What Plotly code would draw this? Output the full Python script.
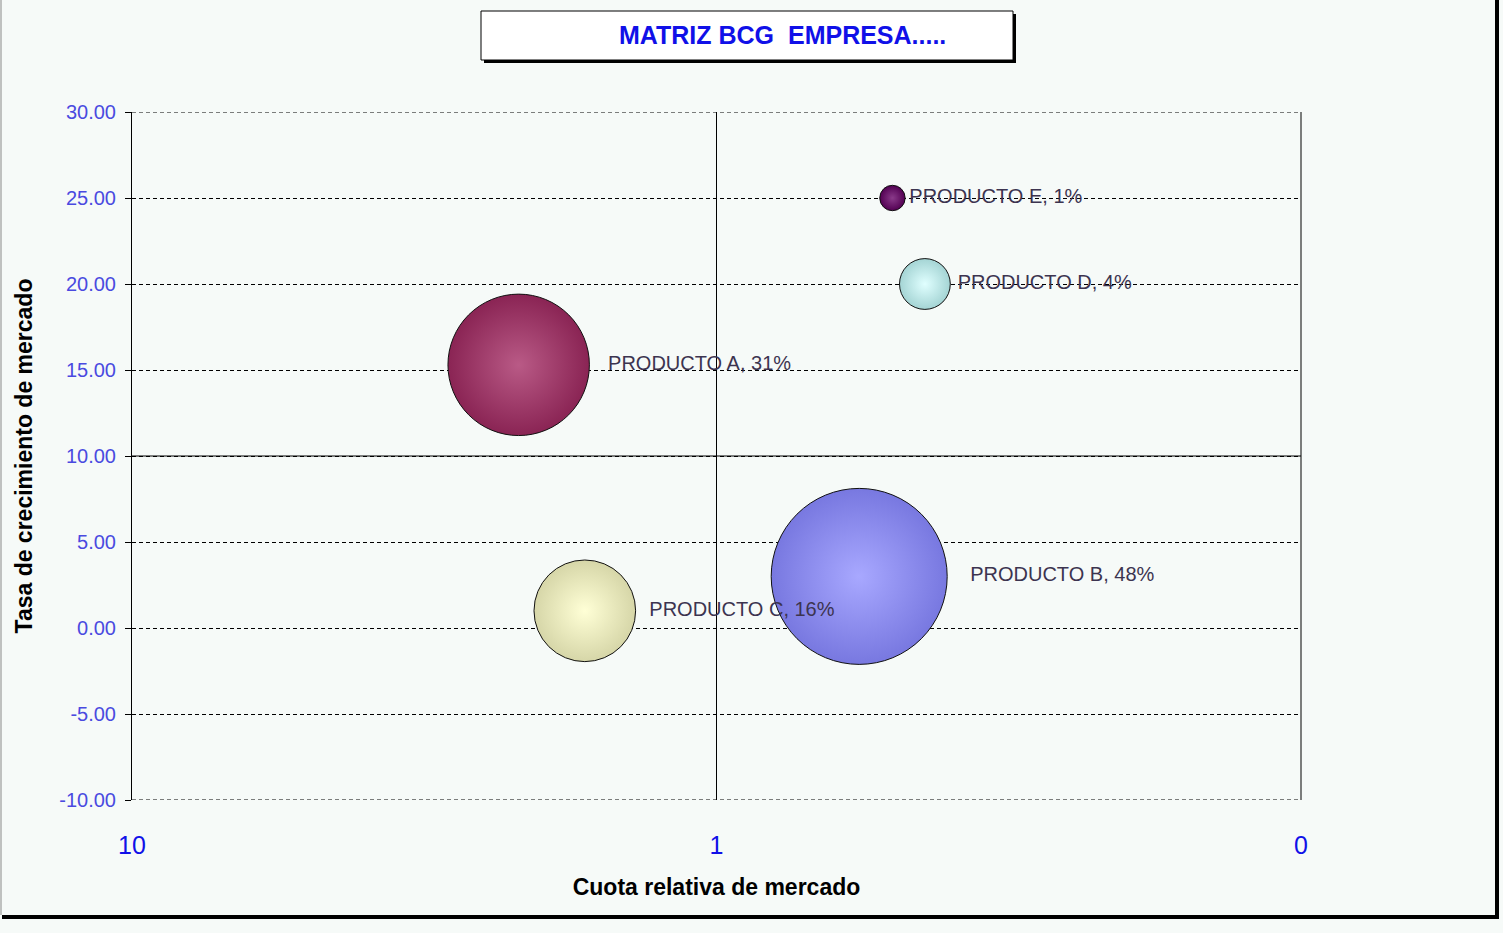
import plotly.graph_objects as go

# BCG matrix data
productos = ['PRODUCTO A', 'PRODUCTO B', 'PRODUCTO C', 'PRODUCTO D', 'PRODUCTO E']
cuota_relativa = [2.18, 0.57, 1.68, 0.44, 0.50]
tasa_crecimiento = [15.3, 3.0, 1.0, 20.0, 25.0]
participacion = [31, 48, 16, 4, 1]

centro_colores = ['#B95A86', '#A8A8FF', '#FFFFD6', '#E0FFFF', '#8A3A8A']
borde_colores = ['#8A2454', '#7878E0', '#D6D6A8', '#A4D4D4', '#520052']

x_ticks = [10, 1, 0.1]
x_ticktext = ['10', '1', '0']
y_ticks = [-10, -5, 0, 5, 10, 15, 20, 25, 30]
y_ticktext = ['%.2f' % v for v in y_ticks]

W, H = 1503, 933
L, R, T, B = 132, 1301, 112, 800


def px(x):
    return (x - L) / (R - L)


def py(y):
    return (B - y) / (B - T)


labels = ['%s, %d%%' % (p, s) for p, s in zip(productos, participacion)]
max_diam = 176
sizeref = 2 * max(participacion) / max_diam ** 2

fig = go.Figure()
for i in range(len(productos)):
    fig.add_trace(go.Scatter(
        x=[cuota_relativa[i]], y=[tasa_crecimiento[i]],
        mode='markers+text',
        text=[labels[i]],
        textposition='middle right',
        textfont=dict(family='Liberation Sans, Arial', size=20, color='#3C3450'),
        marker=dict(size=[participacion[i]], sizemode='area', sizeref=sizeref,
                    color=borde_colores[i],
                    gradient=dict(type='radial', color=centro_colores[i]),
                    line=dict(color='#111111', width=1), opacity=1),
        showlegend=False, cliponaxis=False,
    ))

bg = '#F6FAF8'
dash = '4px,3px'
shapes = [
    # outer frame: thick shadow on right/bottom
    dict(type='line', xref='paper', yref='paper', x0=px(1497), x1=px(1497), y0=py(0), y1=py(919),
         line=dict(color='black', width=4)),
    dict(type='line', xref='paper', yref='paper', x0=px(2), x1=px(1499), y0=py(917), y1=py(917),
         line=dict(color='black', width=4)),
    dict(type='line', xref='paper', yref='paper', x0=px(1), x1=px(1), y0=py(0), y1=py(915),
         line=dict(color='#888888', width=1)),
    # title box shadow + box
    dict(type='rect', xref='paper', yref='paper', x0=px(484), x1=px(1016), y0=py(14), y1=py(63),
         line=dict(width=0), fillcolor='black', layer='below'),
    dict(type='rect', xref='paper', yref='paper', x0=px(481), x1=px(1013), y0=py(11), y1=py(60),
         line=dict(color='black', width=1), fillcolor='white', layer='below'),
    # plot frame: dashed top/bottom, solid right, solid mid-line
    dict(type='line', xref='x domain', yref='y', x0=0, x1=1, y0=30, y1=30,
         line=dict(color='black', width=1, dash=dash)),
    dict(type='line', xref='x domain', yref='y', x0=0, x1=1, y0=-10, y1=-10,
         line=dict(color='black', width=1, dash=dash)),
    dict(type='line', xref='x domain', yref='y', x0=1, x1=1, y0=-10, y1=30,
         line=dict(color='black', width=1)),
    dict(type='line', xref='x domain', yref='y', x0=0, x1=1, y0=10, y1=10,
         line=dict(color='black', width=1)),
]

fig.update_layout(
    width=W, height=H,
    margin=dict(l=L, r=W - R, t=T, b=H - B),
    paper_bgcolor=bg, plot_bgcolor=bg,
    font=dict(family='Liberation Sans, Arial', color='black'),
    shapes=shapes,
    annotations=[dict(text='<b>MATRIZ BCG  EMPRESA.....</b>', xref='paper', yref='paper',
                      x=px(782), y=py(35), xanchor='center', yanchor='middle', showarrow=False,
                      font=dict(size=25, color='#1010E8'))],
    xaxis=dict(type='log', range=[1, -1], tickvals=x_ticks, ticktext=x_ticktext,
               showgrid=True, gridcolor='black', gridwidth=1,
               zeroline=False, showline=False, ticks='', ticklabelstandoff=28,
               tickfont=dict(size=25, color='#1010E8'),
               title=dict(text='<b>Cuota relativa de mercado</b>', font=dict(size=23), standoff=20)),
    yaxis=dict(range=[-10, 30], tickvals=y_ticks, ticktext=y_ticktext,
               showgrid=True, gridcolor='black', gridwidth=1, griddash=dash,
               zeroline=False, showline=True, linecolor='black', linewidth=1,
               ticks='outside', ticklen=6, tickcolor='black', ticklabelstandoff=5,
               tickfont=dict(size=20, color='#4A4AE0'),
               title=dict(text='<b>Tasa de crecimiento de mercado</b>', font=dict(size=23), standoff=20)),
)

fig.write_html('out.html', config={'displayModeBar': False},
               post_script="document.body.style.margin='0';")
